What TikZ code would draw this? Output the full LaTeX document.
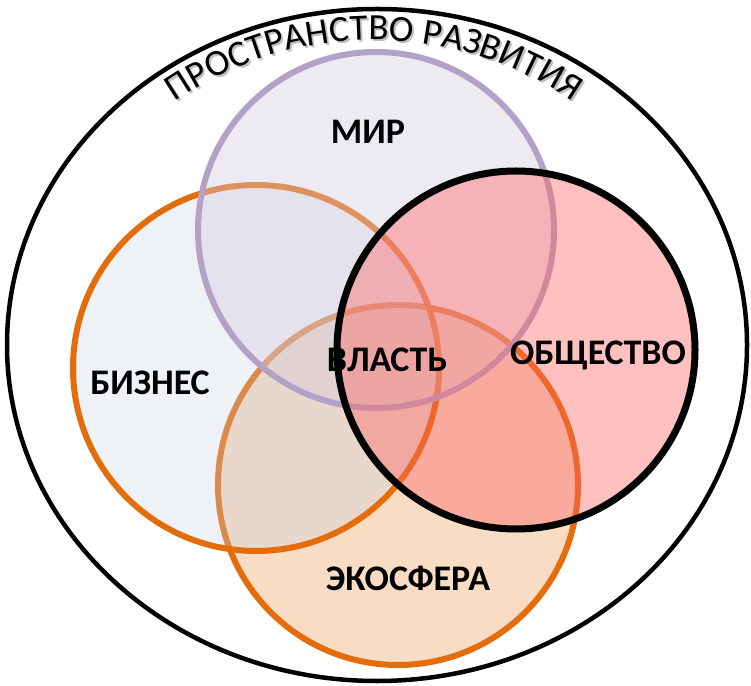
\documentclass[tikz,border=0pt]{standalone}
\usepackage{fontspec}
\setmainfont{Carlito}
\usetikzlibrary{decorations.text}
\definecolor{mirline}{RGB}{179,162,199}
\definecolor{mirfill}{RGB}{213,203,222}
\definecolor{orline}{RGB}{228,108,10}
\definecolor{bizfill}{RGB}{198,210,225}
\definecolor{ecofill}{RGB}{248,220,196}
\definecolor{obfill}{RGB}{255,97,97}
\tikzset{
  venn/.style={line width=6pt},
  lbl/.style={font=\fontsize{36}{42}\selectfont\bfseries, text=black, inner sep=0pt},
}
\begin{document}
\begin{tikzpicture}[x=1pt,y=1pt]
\useasboundingbox (0,0) rectangle (751,685);
% outer ellipse
\draw[line width=4.5pt, black] (377,340) ellipse [x radius=370pt, y radius=336pt];
% curved title with soft shadow
\path[decorate, decoration={text along path, text align=center,
  text color=black!25,
  text={|\fontsize{37}{43}\selectfont|ПРОСТРАНСТВО РАЗВИТИЯ}}]
  (376,291) ++(127:352pt) arc [start angle=127, end angle=53, radius=352pt];
\path[decorate, decoration={text along path, text align=center,
  text color=black,
  text={|\fontsize{37}{43}\selectfont|ПРОСТРАНСТВО РАЗВИТИЯ}}]
  (374,293) ++(127:352pt) arc [start angle=127, end angle=53, radius=352pt];
% circles
\draw[venn, draw=orline, fill=ecofill] (398,200) circle [radius=180pt];
\draw[venn, draw=orline, fill=bizfill, fill opacity=0.3] (256,317) circle [radius=183pt];
\draw[venn, draw=mirline, fill=mirfill, fill opacity=0.4] (376,455) circle [radius=178pt];
\draw[line width=7pt, draw=black, fill=obfill, fill opacity=0.4] (516,335) circle [radius=179pt];
% labels
\node[lbl] (mir) at (368,553) {МИР};
\node[lbl] (biz) at (150,302) {БИЗНЕС};
\node[lbl] (vlast) at (387,325) {ВЛАСТЬ};
\node[lbl] (obsh) at (598,330) {ОБЩЕСТВО};
\node[lbl] (eco) at (408,107) {ЭКОСФЕРА};
\end{tikzpicture}
\end{document}
